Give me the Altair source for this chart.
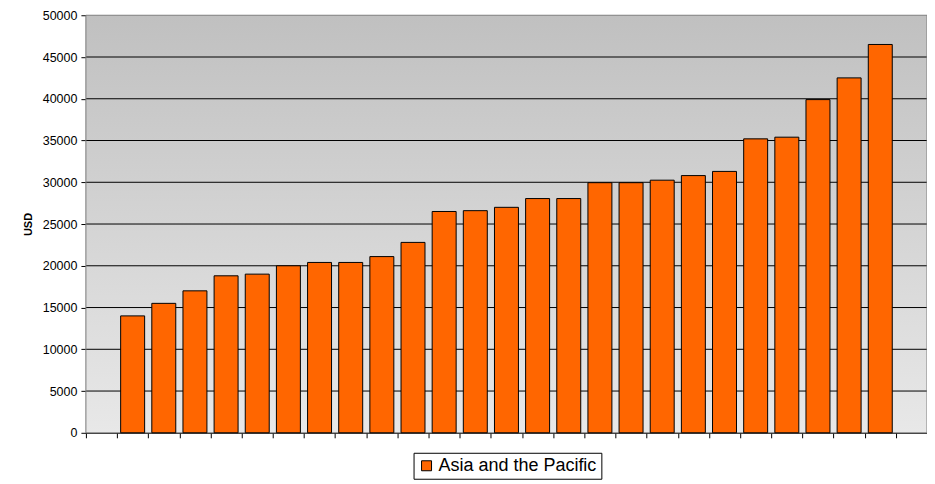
import altair as alt
import pandas as pd

series_name = "Asia and the Pacific"
values = [14000, 15500, 17000, 18800, 19000, 20000, 20400, 20400, 21100, 22800,
          26500, 26600, 27000, 28050, 28050, 29950, 29950, 30250, 30800, 31300,
          35200, 35400, 39900, 42500, 46500]
positions = list(range(1, len(values) + 1))
y_ticks = [0, 5000, 10000, 15000, 20000, 25000, 30000, 35000, 40000, 45000, 50000]
x_ticks = [i - 0.5 for i in range(0, len(values) + 3)]

df = pd.DataFrame({"pos": positions, "value": values, "series": [series_name] * len(values)})

W, H = 842, 418
FONT = "Liberation Sans"

bg = alt.Chart(pd.DataFrame({"a": [0]})).mark_rect(
    color=alt.LinearGradient(
        gradient="linear", x1=0, y1=0, x2=0, y2=1,
        stops=[alt.GradientStop(offset=0, color="#c0c0c0"),
               alt.GradientStop(offset=1, color="#e8e8e8")]
    )
).encode(x=alt.value(0), x2=alt.value(W), y=alt.value(0), y2=alt.value(H))

x_enc = alt.X("pos:Q", scale=alt.Scale(domain=[-0.5, len(values) + 1.5], nice=False, zero=False, padding=0),
              axis=alt.Axis(values=x_ticks, labels=False, grid=False, title=None,
                            domainColor="#000000", tickColor="#000000", tickSize=5,
                            domainWidth=1))

grid = alt.Chart(pd.DataFrame({"t": y_ticks[1:-1]})).mark_rule(color="#000000", strokeWidth=1).encode(
    y=alt.Y("t:Q", scale=alt.Scale(domain=[0, 50000]))
)

bars = alt.Chart(df).mark_bar(size=24, stroke="#000000", strokeWidth=1, fillOpacity=1).encode(
    x=x_enc,
    y=alt.Y("value:Q", scale=alt.Scale(domain=[0, 50000], nice=False),
            axis=alt.Axis(values=y_ticks, format="d", grid=False, title="USD", titleFont=FONT,
                          titleFontSize=11, titleFontWeight="bold", titleColor="#000000",
                          titlePadding=9, labelFont=FONT, labelFontSize=12.5,
                          labelColor="#000000", labelPadding=4, tickSize=5,
                          tickColor="#000000", domainColor="#000000")),
    fill=alt.Fill("series:N", scale=alt.Scale(range=["#ff6600"]),
                  legend=alt.Legend(title=None, orient="none", legendX=328, legendY=438,
                                    symbolType="square", symbolSize=100,
                                    symbolStrokeColor="#000000", symbolStrokeWidth=1,
                                    labelFont=FONT, labelFontSize=18, labelColor="#000000",
                                    strokeColor="#000000", padding=4, labelOffset=3,
                                    fillColor="#ffffff", rowPadding=0))
)

border = alt.Chart(pd.DataFrame({"a": [0]})).mark_rect(
    fill=None, stroke="#808080", strokeWidth=1
).encode(x=alt.value(0), x2=alt.value(W), y=alt.value(0), y2=alt.value(H))

chart = alt.layer(bg, grid, border, bars).properties(
    width=W, height=H,
    autosize=alt.AutoSizeParams(type="none"),
    padding={"left": 78, "top": 7, "right": 0, "bottom": 50},
).configure_view(stroke=None).configure(background="#ffffff")

chart.save("out.html", embed_options={"renderer": "svg", "actions": False})
